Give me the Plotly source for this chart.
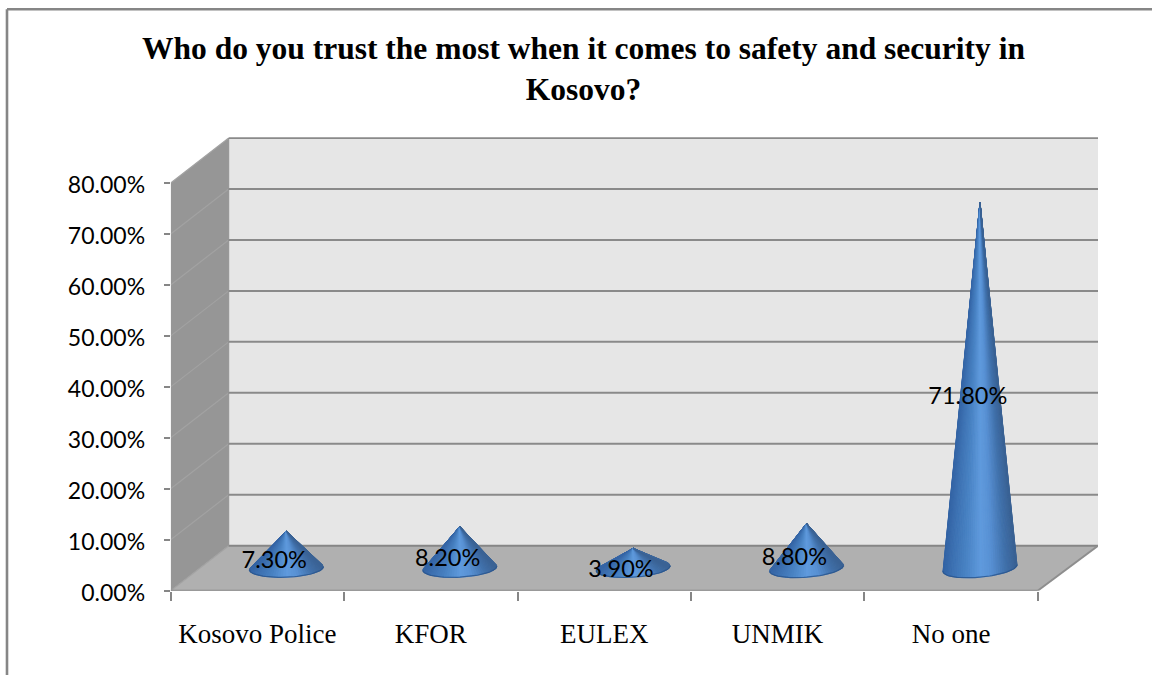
import numpy as np
import plotly.graph_objects as go

TITLE = "<b>Who do you trust the most when it comes to safety and security in<br>Kosovo?</b>"
categories = ["Kosovo Police", "KFOR", "EULEX", "UNMIK", "No one"]
trust_pct = [7.3, 8.2, 3.9, 8.8, 71.8]
y_ticks = [0, 10, 20, 30, 40, 50, 60, 70, 80]

W, H = 1152, 675
# plot frame in pixels
PX_L, PX_R, PX_T, PX_B = 170.7, 1098.0, 137.3, 590.7
PX_PER_CAT, PX_PER_PCT = 173.4, 5.096
DEPTH_X = 58 / PX_PER_CAT       # oblique offset of the back wall, in data units
DEPTH_Y = 45 / PX_PER_PCT
X0, X1 = -0.5, -0.5 + (PX_R - PX_L) / PX_PER_CAT
Y0, Y1 = 0, (PX_B - PX_T) / PX_PER_PCT
XF = X0 + len(categories)       # right end of the front edge
XB = X1 - DEPTH_X               # right end of the back wall, before the oblique offset
RX, RY = 37 / PX_PER_CAT, 9 / PX_PER_PCT
LABEL_DY = -3.5 / PX_PER_PCT

SERIF = "Liberation Serif"
SANS = "Lato"


def proj(x, v, depth=0.0):
    return x + depth * DEPTH_X, v + depth * DEPTH_Y


def poly(pts):
    return "M " + " L ".join(f"{a:.4f},{b:.4f}" for a, b in pts) + " Z"


shapes = []
def line(a, b, color, width, layer="below"):
    shapes.append(dict(type="line", xref="x", yref="y", x0=a[0], y0=a[1], x1=b[0], y1=b[1],
                       line=dict(color=color, width=width), layer=layer))

# walls and floor
shapes.append(dict(type="path", xref="x", yref="y", layer="below", line_width=0, fillcolor="#969696",
                   path=poly([proj(X0, 0), proj(X0, 80), proj(X0, 80, 1), proj(X0, 0, 1)])))
shapes.append(dict(type="path", xref="x", yref="y", layer="below", line_width=0, fillcolor="#e6e6e6",
                   path=poly([proj(X0, 0, 1), proj(X0, 80, 1), proj(XB, 80, 1), proj(XB, 0, 1)])))
shapes.append(dict(type="path", xref="x", yref="y", layer="below", line_width=0, fillcolor="#b0b0b0",
                   path=poly([proj(X0, 0), proj(XF, 0), proj(XB, 0, 1), proj(X0, 0, 1)])))
# gridlines on side and back wall
for t in y_ticks:
    line(proj(X0, t), proj(X0, t, 1), "#a2a2a2", 1.2)
    line(proj(X0, t, 1), proj(XB, t, 1), "#8a8a8a" if t else "#868686", 2)
# frame edges of the floor
line(proj(X0, 0), proj(XF, 0), "#868686", 2)
line(proj(XF, 0), proj(XB, 0, 1), "#8e8e8e", 2)
line(proj(X0, 0, 1), proj(X0, 80, 1), "#8e8e8e", 1)

# outer border of the chart area
for x0, y0, x1, y1 in [(7, 9.3, W, 9.3), (7, 9.3, 7, H)]:
    shapes.append(dict(type="line", xref="paper", yref="paper", layer="below",
                       x0=x0 / W, x1=x1 / W, y0=1 - y0 / H, y1=1 - y1 / H,
                       line=dict(color="#868686", width=2.6)))

SHADE = [(0.0, (52, 100, 165)), (0.14, (62, 115, 180)), (0.3, (72, 130, 195)),
         (0.52, (96, 155, 222)), (0.66, (88, 145, 212)), (0.86, (64, 112, 170)), (1.0, (58, 98, 148))]


def shade(u):
    us = [s[0] for s in SHADE]
    return "rgb(%d,%d,%d)" % tuple(np.interp(u, us, [s[1][k] for s in SHADE]) for k in range(3))


fig = go.Figure()
N = 48
for i, (cat, val) in enumerate(zip(categories, trust_pct)):
    cx, cy = proj(i, 0, 0.5)
    tilt = (1.5 + 0.45 * i) / PX_PER_PCT
    phi = np.arcsin(min(0.95, RY / val))          # where the silhouette meets the base ellipse
    th = np.linspace(np.pi + phi, -phi, N + 1)    # sweep left -> right along the near side
    bx = cx + RX * np.cos(th)
    by = cy - RY * np.sin(th) + tilt * np.cos(th)
    for k in range(N):
        u = (0.5 * (bx[k] + bx[k + 1]) - (cx - RX)) / (2 * RX)
        c = shade(float(np.clip(u, 0, 1)))
        fig.add_trace(go.Scatter(x=[cx, bx[k], bx[k + 1], cx], y=[cy + val, by[k], by[k + 1], cy + val],
                                 mode="lines", fill="toself", fillcolor=c,
                                 line=dict(color=c, width=1), hoverinfo="skip", showlegend=False))
    # darker rim along the near edge of the base
    near = np.sin(th) >= -0.05
    fig.add_trace(go.Scatter(x=bx[near], y=by[near], mode="lines",
                             line=dict(color="rgba(40,84,140,0.8)", width=1.2),
                             name=cat, hoverinfo="skip", showlegend=False))

# data labels, anchored on the cones' mid-height, a quarter of the way into the depth
lx, ly = zip(*[proj(i, v / 2 + LABEL_DY, 0.29) for i, v in enumerate(trust_pct)])
fig.add_trace(go.Scatter(x=lx, y=ly, mode="text", text=[f"{v:.2f}%" for v in trust_pct],
                         textposition="middle center", textfont=dict(family=SANS, size=23.5, color="#000000"),
                         hoverinfo="skip", showlegend=False))

fig.update_layout(
    width=W, height=H, autosize=False, paper_bgcolor="white", plot_bgcolor="rgba(0,0,0,0)",
    margin=dict(l=0, r=0, t=0, b=0, autoexpand=False), showlegend=False, shapes=shapes,
    title=dict(text=TITLE, x=583.5 / W, xanchor="center", y=1 - 59 / H, yanchor="middle",
               font=dict(family=SERIF, size=31.5, color="#000000")),
    xaxis=dict(domain=[PX_L / W, PX_R / W], range=[X0, X1], showgrid=False, zeroline=False, showline=False,
               automargin=False,
               tickmode="array", tickvals=list(range(len(categories))), ticktext=categories,
               ticks="", ticklabelstandoff=24, tickfont=dict(family=SERIF, size=27, color="#000000"),
               minor=dict(tickmode="array", tickvals=[i - 0.5 for i in range(len(categories) + 1)],
                          ticks="outside", ticklen=9, tickwidth=2, tickcolor="#868686", showgrid=False)),
    yaxis=dict(domain=[1 - PX_B / H, 1 - PX_T / H], range=[Y0, Y1], showgrid=False, zeroline=False, showline=False,
               automargin=False,
               tickmode="array", tickvals=y_ticks, ticktext=[f"{t:.2f}%" for t in y_ticks],
               ticks="outside", ticklen=6, tickwidth=2, tickcolor="#868686",
               ticklabelstandoff=14, ticklabelshift=2, tickfont=dict(family=SANS, size=23, color="#000000")),
)

fig.write_html("out.html", config={"displayModeBar": False},
               post_script="document.body.style.margin='0';document.documentElement.style.overflow='hidden';")
